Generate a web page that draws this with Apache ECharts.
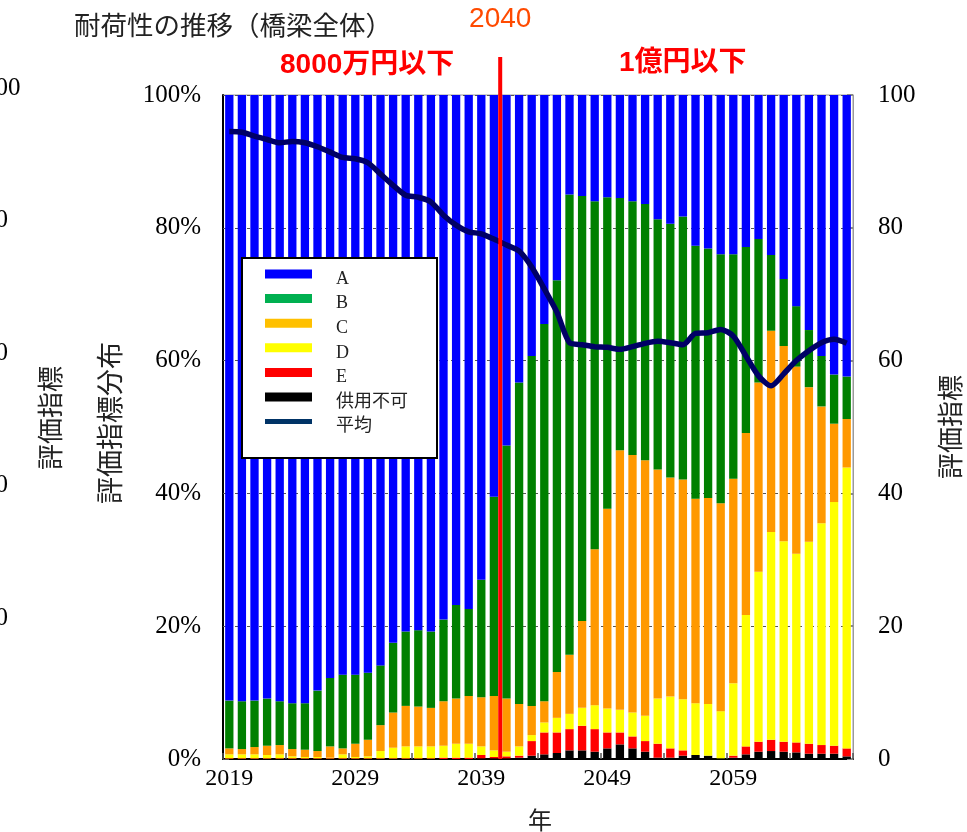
<!DOCTYPE html>
<html>
<head>
<meta charset="utf-8">
<title>耐荷性の推移（橋梁全体）</title>
<script src="https://cdn.jsdelivr.net/npm/echarts@6/dist/echarts.min.js"></script>
<style>
  html, body { margin: 0; padding: 0; background: #ffffff; }
  #chart { width: 967px; height: 832px; }
</style>
</head>
<body>
<div id="chart"></div>
<script>
// Years on the category axis
const years = ['2019','2020','2021','2022','2023','2024','2025','2026','2027','2028',
  '2029','2030','2031','2032','2033','2034','2035','2036','2037','2038',
  '2039','2040','2041','2042','2043','2044','2045','2046','2047','2048',
  '2049','2050','2051','2052','2053','2054','2055','2056','2057','2058',
  '2059','2060','2061','2062','2063','2064','2065','2066','2067','2068'];

// Share of bridges in each rating (%), stacked from the bottom up
const shareUnusable = [0,0,0,0,0,0,0,0,0,0, 0,0,0,0,0,0,0,0,0,0,
  0.1,0.1,0.1,0.2,0.5,0.7,0.9,1.3,1.3,1.1, 1.6,2.2,1.6,1.1,0.2,0.2,0.5,0.6,0.5,0.1,
  0.2,0.7,1.1,1.2,1.1,1.0,0.8,0.8,0.8,0.4];
const shareE = [0.1,0.1,0.1,0.1,0.1,0.1,0.1,0.1,0.1,0.1, 0.1,0.1,0.1,0.1,0.1,0.1,0.1,0.2,0.2,0.2,
  0.5,0.2,0.3,0.3,2.2,3.3,3.1,3.2,3.7,3.4, 2.4,1.8,1.8,1.6,2.1,1.4,0.8,0,0,0,
  0.3,1.2,1.5,1.7,1.5,1.5,1.5,1.3,1.2,1.2];
const shareD = [0.6,0.6,0.6,0.5,0.6,0.3,0.2,0.2,0.1,0.6, 0.2,0.3,1.1,1.6,1.8,1.8,1.8,1.8,2.1,2.1,
  1.3,1.0,0.7,1.4,0.9,1.5,2.2,2.3,2.7,3.6, 3.6,3.4,3.6,3.8,6.8,7.8,7.7,7.8,7.8,7.1,
  10.9,19.8,25.6,31.3,30.2,28.4,30.4,33.4,36.7,42.3];
const shareC = [0.9,0.8,1.1,1.4,1.4,1.1,1.1,0.9,1.7,0.9, 2.0,2.5,3.9,5.3,6.1,6.0,5.8,6.7,6.8,7.2,
  7.4,8.2,8.0,6.4,4.4,3.2,6.9,8.9,13.1,23.5, 30.1,39.1,38.8,38.5,34.5,33.0,33.1,30.8,31.0,31.3,
  30.8,27.4,28.5,30.3,29.4,28.2,23.3,17.6,11.8,7.3];
const shareB = [7.2,7.2,7.0,7.1,6.6,6.9,7.0,9.1,10.3,11.1, 10.4,10.1,9.0,10.5,11.2,11.5,11.5,12.3,14.1,13.1,
  17.7,30.0,38.1,48.4,52.7,56.8,59.0,69.3,64.0,52.4, 46.9,38.0,38.2,38.6,37.7,38.2,39.6,38.1,37.6,37.5,
  33.8,28.0,21.6,11.4,10.1,9.1,8.6,7.6,7.4,6.4];
const shareA = [91.2,91.3,91.2,90.9,91.3,91.6,91.6,89.7,87.8,87.3, 87.3,87.0,85.9,82.6,80.8,80.6,80.8,79.0,76.8,77.4,
  73.0,60.5,52.8,43.3,39.3,34.5,27.9,15.0,15.2,16.0, 15.4,15.5,16.0,16.4,18.7,19.4,18.3,22.7,23.1,24.0,
  24.0,22.9,21.7,24.1,27.7,31.8,35.4,39.3,42.1,42.4];

// Average rating index (right axis)
const averageIndex = [94.5,94.4,93.8,93.3,92.8,93.0,92.8,92.2,91.4,90.6,
  90.4,89.8,88.1,86.4,84.9,84.6,83.9,81.9,80.4,79.4,
  79.1,78.3,77.4,76.5,74.1,70.8,67.3,62.7,62.4,62.1,
  62.0,61.7,62.1,62.6,62.9,62.7,62.4,64.1,64.2,64.7,
  63.7,60.7,57.7,56.2,58.0,60.0,61.5,62.7,63.2,62.6];

// Axis tick labels
const leftTicks = ['0%','20%','40%','60%','80%','100%'];
const rightTicks = ['0','20','40','60','80','100'];
const behindTicks = ['100','80','60','40','20'];

// Boundary year marked by the red line: between this year and the next
const boundaryYear = '2040';

const legendItems = [
  { name: 'A', color: '#0000ff', h: 9 },
  { name: 'B', color: '#00b050', h: 9 },
  { name: 'C', color: '#ffc000', h: 9 },
  { name: 'D', color: '#ffff00', h: 9 },
  { name: 'E', color: '#ff0000', h: 9 },
  { name: '供用不可', color: '#000000', h: 9 },
  { name: '平均', color: '#003366', h: 5 }
];

const serif = '"Liberation Serif", "Times New Roman", serif';
const cjk = '"Noto Sans CJK JP", "Noto Sans", sans-serif';

const chart = echarts.init(document.getElementById('chart'), null, { renderer: 'canvas' });

function barSeries(name, data, color) {
  return {
    name: name,
    type: 'bar',
    stack: 'share',
    data: data,
    barWidth: '66%',
    itemStyle: { color: color },
    emphasis: { disabled: true },
    animation: false
  };
}

const option = {
  backgroundColor: '#ffffff',
  animation: false,
  grid: {
    left: 223, right: 114, top: 95, bottom: 73,
    show: true, borderColor: '#9a9a9a', borderWidth: 1, backgroundColor: 'transparent'
  },
  xAxis: [{
    type: 'category',
    data: years,
    boundaryGap: true,
    axisLine: { show: true, lineStyle: { color: '#000', width: 2 } },
    axisTick: { show: true, inside: true, length: 6, interval: 4, lineStyle: { color: '#555', width: 1.5 } },
    axisLabel: { interval: 9, margin: 8, color: '#000', fontFamily: serif, fontSize: 24 },
    splitLine: { show: false }
  }],
  yAxis: [{
    type: 'value', min: 0, max: 100, interval: 20, position: 'left',
    axisLine: { show: true, lineStyle: { color: '#000', width: 2 } },
    axisTick: { show: true, inside: true, length: 6, lineStyle: { color: '#555' } },
    axisLabel: {
      margin: 22, color: '#000', fontFamily: serif, fontSize: 25,
      formatter: function (v) { return leftTicks[Math.round(v / 20)]; }
    },
    splitLine: { show: true, lineStyle: { color: '#555', type: [3, 3], width: 1 } }
  }, {
    type: 'value', min: 0, max: 100, interval: 20, position: 'right',
    axisLine: { show: true, lineStyle: { color: '#9a9a9a', width: 1 } },
    axisTick: { show: true, inside: true, length: 6, lineStyle: { color: '#888', width: 2 } },
    axisLabel: {
      margin: 25, color: '#000', fontFamily: serif, fontSize: 25,
      formatter: function (v) { return rightTicks[Math.round(v / 20)]; }
    },
    splitLine: { show: false }
  }],
  series: [
    barSeries('供用不可', shareUnusable, '#000000'),
    barSeries('E', shareE, '#ff0000'),
    barSeries('D', shareD, '#ffff00'),
    barSeries('C', shareC, '#ff9900'),
    barSeries('B', shareB, '#008000'),
    barSeries('A', shareA, '#0000ff'),
    {
      name: '平均',
      type: 'line',
      yAxisIndex: 1,
      data: averageIndex,
      smooth: 0.25,
      symbol: 'none',
      z: 5,
      lineStyle: { color: '#000066', width: 5.5 },
      emphasis: { disabled: true },
      animation: false
    }
  ]
};

chart.setOption(option);

// Overlay texts, legend box and the boundary marker
const graphics = [];
const Z = 100;

// Title and annotations above the plot
graphics.push({ type: 'text', z: Z, left: 74, top: 12, style: { text: '耐荷性の推移（橋梁全体）', font: '26.5px ' + cjk, fill: '#222' } });
graphics.push({ type: 'text', z: Z, left: 280, top: 51, style: { text: '8000万円以下', font: 'bold 28px "Liberation Sans", ' + cjk, fill: '#ff0000' } });
graphics.push({ type: 'text', z: Z, left: 619, top: 49, style: { text: '1億円以下', font: 'bold 28px "Liberation Sans", ' + cjk, fill: '#ff0000' } });

// Axis titles
graphics.push({ type: 'text', z: Z, x: 110, y: 423, rotation: Math.PI / 2,
  style: { text: '評価指標分布', font: '27px ' + cjk, fill: '#222', align: 'center', verticalAlign: 'middle' } });
graphics.push({ type: 'text', z: Z, x: 950, y: 427, rotation: Math.PI / 2,
  style: { text: '評価指標', font: '26px ' + cjk, fill: '#222', align: 'center', verticalAlign: 'middle' } });
graphics.push({ type: 'text', z: Z, x: 540, y: 820,
  style: { text: '年', font: '24px ' + cjk, fill: '#222', align: 'center', verticalAlign: 'middle' } });

// Partially visible axis of the neighbouring chart on the left edge
behindTicks.forEach(function (t, i) {
  graphics.push({ type: 'text', z: Z, x: -17, y: 88 + i * 132.5,
    style: { text: t, font: '25px ' + serif, fill: '#000', align: 'left', verticalAlign: 'middle' } });
});
graphics.push({ type: 'text', z: Z, x: 50, y: 418, rotation: Math.PI / 2,
  style: { text: '評価指標', font: '26px ' + cjk, fill: '#222', align: 'center', verticalAlign: 'middle' } });

// Legend box
graphics.push({ type: 'rect', z: Z, shape: { x: 242, y: 258, width: 195, height: 200 },
  style: { fill: '#ffffff', stroke: '#000000', lineWidth: 2 } });
legendItems.forEach(function (it, i) {
  const cy = 274 + i * 24.6;
  graphics.push({ type: 'rect', z: Z + 1, shape: { x: 265, y: cy - it.h / 2, width: 47, height: it.h }, style: { fill: it.color } });
  graphics.push({ type: 'text', z: Z + 1, x: 336, y: cy + 5,
    style: { text: it.name, font: '18px ' + serif + ', ' + cjk, fill: '#222', verticalAlign: 'middle' } });
});

// Red boundary line between 2040 and 2041, from the category axis positions
const i0 = years.indexOf(boundaryYear);
const xa = chart.convertToPixel({ xAxisIndex: 0 }, years[i0]);
const xb = chart.convertToPixel({ xAxisIndex: 0 }, years[i0 + 1]);
const xMark = (xa + xb) / 2;
const yZero = chart.convertToPixel({ yAxisIndex: 0 }, 0);
graphics.push({ type: 'line', z: 90, shape: { x1: xMark, y1: 57, x2: xMark, y2: yZero }, style: { stroke: '#ff0000', lineWidth: 4 } });
graphics.push({ type: 'text', z: 90, x: xMark, y: 19,
  style: { text: boundaryYear, font: '28px "Liberation Sans", sans-serif', fill: '#ff4a00', align: 'center', verticalAlign: 'middle' } });

chart.setOption({ graphic: graphics });
</script>
</body>
</html>
